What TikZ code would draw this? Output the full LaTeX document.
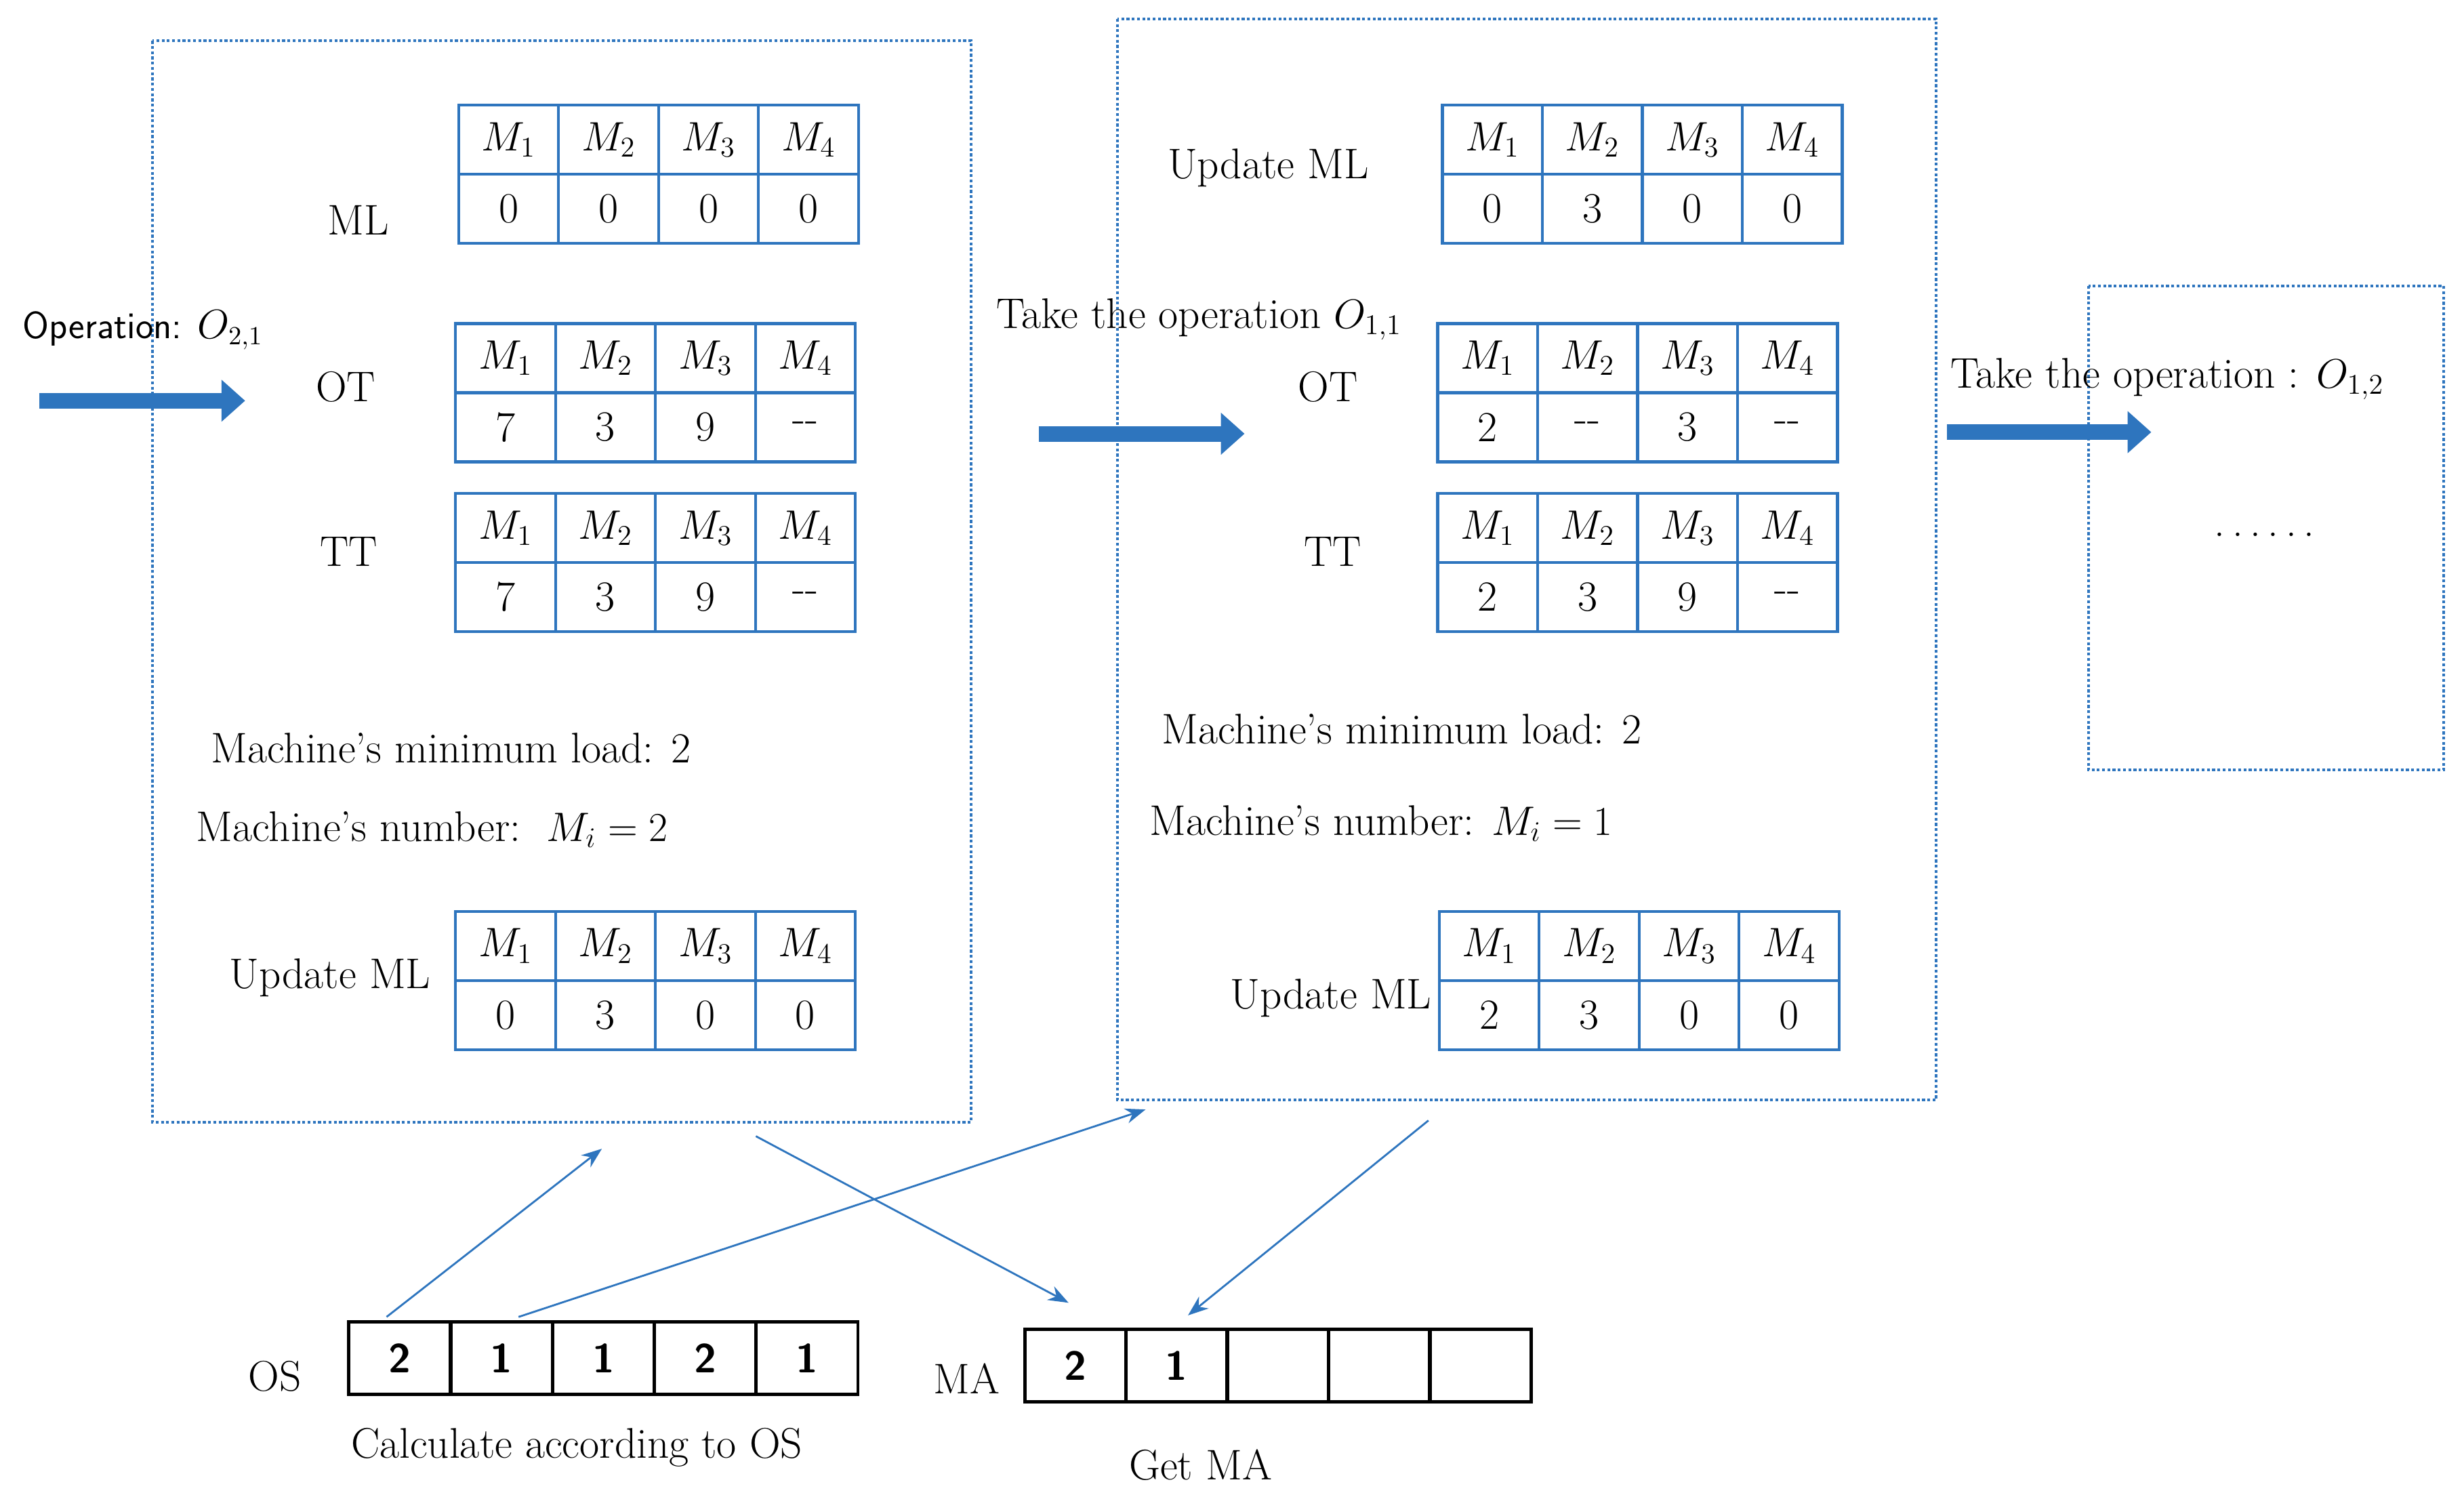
\documentclass[tikz,border=0pt]{standalone}
\usetikzlibrary{arrows.meta}
\definecolor{cb}{RGB}{46,117,190}
\begin{document}
\begin{tikzpicture}[x=0.02319cm,y=-0.02319cm,
  every node/.style={font=\fontsize{18}{21}\selectfont},
  cell/.style={draw=cb,line width=1.2pt,minimum width=1.475cm,minimum height=1.02cm,inner sep=0pt},
  arr/.style={draw=black,line width=1.4pt,minimum width=1.5cm,minimum height=1.07cm,inner sep=0pt,font=\sffamily\bfseries\fontsize{17}{20}\selectfont},
  box/.style={draw=cb,densely dotted,line width=1.2pt},
  big/.style={draw=cb,line width=0.23cm,-{Triangle[length=0.35cm,width=0.6cm]}},
  thin/.style={draw=cb,line width=0.8pt,-{Stealth[length=0.3cm]}}]
\useasboundingbox (0,0) rectangle (1568,951);
\newcommand\mtab[4]{%
 \foreach \v [count=\i] in {#4}{%
  \node[cell,anchor=north west] (#1h\i) at ({#2+(\i-1)*63.6},#3) {$M_{\i}$};
  \node[cell,anchor=north west] (#1v\i) at ({#2+(\i-1)*63.6},{#3+44}) {\v};
 }}
% boxes
\draw[box] (97,26) rectangle (618,714);
\draw[box] (711,12) rectangle (1232,700);
\draw[box] (1329,182) rectangle (1555,490);
% left box
\mtab{lml}{291}{66}{0,0,0,0}
\mtab{lot}{289}{205}{7,3,9,{-{}-}}
\mtab{ltt}{289}{313}{7,3,9,{-{}-}}
\mtab{lup}{289}{579}{0,3,0,0}
\node (t1) at (228,140) {ML};
\node (t2) at (220,246) {OT};
\node (t3) at (222,351) {TT};
\node (t4) at (287,476) {Machine's minimum load: 2};
\node (t5) at (275,528) {Machine's number:\ \ $M_i=2$};
\node (t6) at (210,622) {Update ML};
% middle box
\mtab{mml}{917}{66}{0,3,0,0}
\mtab{mot}{914}{205}{2,{-{}-},3,{-{}-}}
\mtab{mtt}{914}{313}{2,3,9,{-{}-}}
\mtab{mup}{915}{579}{2,3,0,0}
\node (u1) at (807,107) {Update ML};
\node (u2) at (763,203) {Take the operation $O_{1,1}$};
\node (u3) at (845,246) {OT};
\node (u4) at (848,351) {TT};
\node (u5) at (892,464) {Machine's minimum load: 2};
\node (u6) at (879,524) {Machine's number: $M_i=1$};
\node (u7) at (847,635) {Update ML};
% right
\node[anchor=west,inner sep=0pt] (r1) at (1241,241) {Take the operation : $O_{1,2}$};
\node (r2) at (1441,340) {.\,.\,.\,.\,.\,.};
\node[font=\sffamily\fontsize{16}{19}\selectfont] (op) at (91,210) {Operation: $O_{2,1}$};
% big arrows
\coordinate (a1) at (25,255); \coordinate (a2) at (156,255);
\coordinate (b1) at (661,276); \coordinate (b2) at (792,276);
\coordinate (c1) at (1239,275); \coordinate (c2) at (1369,275);
\draw[big] (a1) -- (a2);
\draw[big] (b1) -- (b2);
\draw[big] (c1) -- (c2);
% OS and MA
\foreach \v [count=\i] in {2,1,1,2,1}{\node[arr,anchor=north west] (os\i) at ({221+(\i-1)*64.8},840) {\v};}
\foreach \v [count=\i] in {2,1,,,}{\node[arr,anchor=north west] (ma\i) at ({651+(\i-1)*64.4},845) {\v};}
\node (osl) at (175,876) {OS};
\node (mal) at (615,877) {MA};
\node (osc) at (367,921) {Calculate according to OS};
\node (mac) at (764,932) {Get MA};
% thin arrows
\coordinate (p1) at (383,731);
\coordinate (p2) at (729,706);
\coordinate (p3) at (481,723);
\coordinate (p4) at (680,829);
\coordinate (p5) at (909,713);
\coordinate (p6) at (756,837);
\coordinate (s1) at (246,838);
\coordinate (s2) at (330,838);
\draw[thin] (s1) -- (p1);
\draw[thin] (s2) -- (p2);
\draw[thin] (p3) -- (p4);
\draw[thin] (p5) -- (p6);
\end{tikzpicture}
\end{document}
